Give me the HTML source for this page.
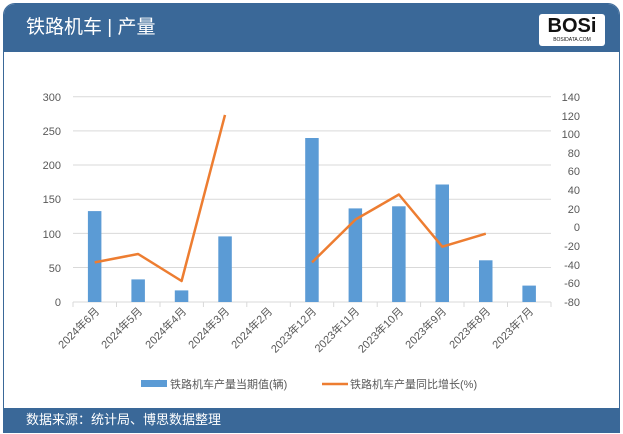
<!DOCTYPE html>
<html><head><meta charset="utf-8"><style>
body{margin:0;width:623px;height:434px;background:#fff;font-family:"Liberation Sans","Noto Sans CJK SC",sans-serif;overflow:hidden}
.card{position:absolute;left:3px;top:3px;width:615px;height:428px;border:1px solid #3a6898;border-radius:12px 12px 0 0;overflow:hidden;background:#fff}
.hd{position:absolute;left:0;top:0;width:100%;height:48px;background:#3a6898;color:#fff;font-size:19px;line-height:48px;padding-left:22px;box-sizing:border-box}
.ft{position:absolute;left:0;bottom:0;width:100%;height:24px;background:#3a6898;color:#fff;font-size:13px;line-height:24px;padding-left:22px;box-sizing:border-box}
.logo{position:absolute;right:14px;top:10px;width:66px;height:32px;background:#fff;border-radius:3px;color:#111;font-weight:bold;font-size:20px;text-align:center;line-height:24px}
.logo small{display:block;font-size:5px;line-height:5px;font-weight:normal}
</style></head><body>
<div class="card">
<div class="hd">铁路机车 | 产量<div class="logo">BOSi<small>BOSIDATA.COM</small></div></div>
<div class="ft">数据来源：统计局、博思数据整理</div>
</div>
<svg width="623" height="434" style="position:absolute;left:0;top:0" font-family="Liberation Sans, Noto Sans CJK SC, sans-serif">
<g stroke="#d9d9d9" stroke-width="1">
<line x1="73" x2="551" y1="96.7" y2="96.7"/><line x1="73" x2="551" y1="130.9" y2="130.9"/><line x1="73" x2="551" y1="165" y2="165"/><line x1="73" x2="551" y1="199.2" y2="199.2"/><line x1="73" x2="551" y1="233.4" y2="233.4"/><line x1="73" x2="551" y1="267.5" y2="267.5"/><line x1="73" x2="551" y1="302" y2="302"/>
<line x1="73" x2="73" y1="302" y2="307"/><line x1="116.5" x2="116.5" y1="302" y2="307"/><line x1="160" x2="160" y1="302" y2="307"/><line x1="203.4" x2="203.4" y1="302" y2="307"/><line x1="246.8" x2="246.8" y1="302" y2="307"/><line x1="290.3" x2="290.3" y1="302" y2="307"/><line x1="333.7" x2="333.7" y1="302" y2="307"/><line x1="377.2" x2="377.2" y1="302" y2="307"/><line x1="420.6" x2="420.6" y1="302" y2="307"/><line x1="464" x2="464" y1="302" y2="307"/><line x1="507.5" x2="507.5" y1="302" y2="307"/><line x1="551" x2="551" y1="302" y2="307"/>
</g>
<g font-size="11" fill="#595959" text-anchor="end">
<text x="61" y="101">300</text><text x="61" y="135">250</text><text x="61" y="169">200</text><text x="61" y="203">150</text><text x="61" y="238">100</text><text x="61" y="272">50</text><text x="61" y="306">0</text>
</g>
<g font-size="11" fill="#595959" text-anchor="end">
<text x="580" y="101">140</text><text x="580" y="120">120</text><text x="580" y="138">100</text><text x="580" y="157">80</text><text x="580" y="175">60</text><text x="580" y="194">40</text><text x="580" y="213">20</text><text x="580" y="231">0</text><text x="580" y="250">-20</text><text x="580" y="269">-40</text><text x="580" y="287">-60</text><text x="580" y="306">-80</text>
</g>
<g fill="#5b9bd5">
<rect x="87.9" y="211.1" width="13.5" height="90.9"/>
<rect x="131.4" y="279.4" width="13.5" height="22.6"/>
<rect x="174.8" y="290.4" width="13.5" height="11.6"/>
<rect x="218.3" y="236.4" width="13.5" height="65.6"/>
<rect x="305.2" y="138" width="13.5" height="164"/>
<rect x="348.6" y="208.4" width="13.5" height="93.6"/>
<rect x="392.1" y="206.3" width="13.5" height="95.7"/>
<rect x="435.5" y="184.5" width="13.5" height="117.5"/>
<rect x="479" y="260.3" width="13.5" height="41.7"/>
<rect x="522.4" y="285.6" width="13.5" height="16.4"/>
</g>
<g stroke="#ed7d31" stroke-width="2.5" fill="none" stroke-linejoin="round">
<polyline points="94.7,262.4 138.1,254 181.6,281 225,114.9"/>
<polyline points="312,262.4 355.4,219.6 398.9,194.5 442.3,246.7 485.8,233.7"/>
</g>
<g font-size="11" fill="#595959">
<text transform="translate(100,312) rotate(-45)" text-anchor="end">2024年6月</text>
<text transform="translate(143,312) rotate(-45)" text-anchor="end">2024年5月</text>
<text transform="translate(187,312) rotate(-45)" text-anchor="end">2024年4月</text>
<text transform="translate(230,312) rotate(-45)" text-anchor="end">2024年3月</text>
<text transform="translate(273,312) rotate(-45)" text-anchor="end">2024年2月</text>
<text transform="translate(317,312) rotate(-45)" text-anchor="end">2023年12月</text>
<text transform="translate(360,312) rotate(-45)" text-anchor="end">2023年11月</text>
<text transform="translate(404,312) rotate(-45)" text-anchor="end">2023年10月</text>
<text transform="translate(447,312) rotate(-45)" text-anchor="end">2023年9月</text>
<text transform="translate(491,312) rotate(-45)" text-anchor="end">2023年8月</text>
<text transform="translate(534,312) rotate(-45)" text-anchor="end">2023年7月</text>
</g>
<rect x="141" y="380" width="26" height="7" fill="#5b9bd5"/>
<text x="170" y="388" font-size="11" fill="#595959">铁路机车产量当期值(辆)</text>
<line x1="322" x2="348" y1="384" y2="384" stroke="#ed7d31" stroke-width="2.5"/>
<text x="350" y="388" font-size="11" fill="#595959">铁路机车产量同比增长(%)</text>
</svg>
</body></html>
